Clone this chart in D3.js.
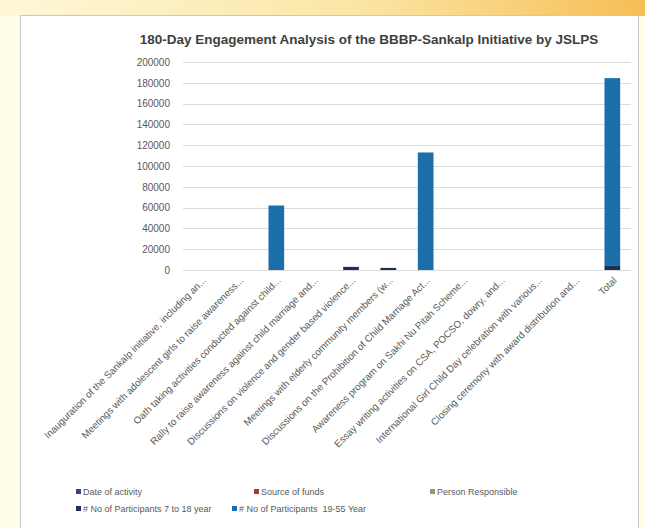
<!DOCTYPE html>
<html>
<head>
<meta charset="utf-8">
<script src="https://cdn.jsdelivr.net/npm/d3@7"></script>
<style>
  body { margin: 0; background: #fffde8; }
  text { font-family: "Liberation Sans", Arial, sans-serif; }
</style>
</head>
<body>
<div id="chart"></div>
<script>
const categories = [
  "Inauguration of the Sankalp initiative, including an...",
  "Meetings with adolescent girls to raise awareness...",
  "Oath taking activities conducted against child...",
  "Rally to raise awareness against child marriage and...",
  "Discussions on violence and gender based violence...",
  "Meetings with elderly community members (w...",
  "Discussions on the Prohibition of Child Marriage Act...",
  "Awareness program on Sakhi Nu Pitah Scheme...",
  "Essay writing activities on CSA, POCSO, dowry, and...",
  "International Girl Child Day celebration with various...",
  "Closing ceremony with award distribution and...",
  "Total",
];

const seriesNames = [
  "Date of activity",
  "Source of funds",
  "Person Responsible",
  "# No of Participants 7 to 18 year",
  "# No of Participants  19-55 Year",
];

const dateOfActivity = [0, 0, 0, 0, 0, 0, 0, 0, 0, 0, 0, 0];
const sourceOfFunds = [0, 0, 0, 0, 0, 0, 0, 0, 0, 0, 0, 0];
const personResponsible = [0, 0, 0, 0, 0, 0, 0, 0, 0, 0, 0, 0];
const participants7to18 = [0, 0, 0, 0, 3000, 2000, 0, 0, 0, 0, 0, 4500];
const participants19to55 = [0, 0, 62000, 0, 0, 0, 113000, 0, 0, 0, 0, 180000];

const yTicks = [0, 20000, 40000, 60000, 80000, 100000, 120000, 140000, 160000, 180000, 200000];

const colors = ["#34428c", "#a83a28", "#8f9c6a", "#1f2d5c", "#1b6ea8"];

const width = 645;
const height = 528;
const margin = { top: 62, right: 14, bottom: 258, left: 183 };

const seriesValues = [
  dateOfActivity,
  sourceOfFunds,
  personResponsible,
  participants7to18,
  participants19to55,
];

const table = categories.map((c, i) => {
  const row = { category: c };
  seriesNames.forEach((s, j) => (row[s] = seriesValues[j][i]));
  return row;
});

const stacked = d3.stack().keys(seriesNames)(table);

const svg = d3
  .select("#chart")
  .append("svg")
  .attr("width", width)
  .attr("height", height);

// frame background
const defs = svg.append("defs");
const grad = defs
  .append("linearGradient")
  .attr("id", "topband")
  .attr("x1", "0%")
  .attr("x2", "100%");
grad.append("stop").attr("offset", "0%").attr("stop-color", "#fef8d8");
grad.append("stop").attr("offset", "55%").attr("stop-color", "#fbe6a6");
grad.append("stop").attr("offset", "100%").attr("stop-color", "#f6be55");

svg
  .append("rect")
  .attr("width", width)
  .attr("height", height)
  .attr("fill", "#fffde8");

svg
  .append("rect")
  .attr("width", width)
  .attr("height", 16)
  .attr("fill", "url(#topband)");

svg
  .append("rect")
  .attr("x", 20.5)
  .attr("y", 15.5)
  .attr("width", 618)
  .attr("height", 520)
  .attr("fill", "#ffffff")
  .attr("stroke", "#c8c8c8");

const xScale = d3
  .scaleBand()
  .domain(categories)
  .range([margin.left, width - margin.right])
  .paddingInner(0.58)
  .paddingOuter(0.29);

const yScale = d3
  .scaleLinear()
  .domain([0, 200000])
  .range([height - margin.bottom, margin.top]);

// gridlines
svg
  .append("g")
  .selectAll("line")
  .data(yTicks)
  .join("line")
  .attr("x1", margin.left)
  .attr("x2", width - margin.right)
  .attr("y1", (d) => Math.round(yScale(d)) + 0.5)
  .attr("y2", (d) => Math.round(yScale(d)) + 0.5)
  .attr("stroke", "#dcdcdc");

// y axis labels
const yAxis = svg
  .append("g")
  .attr("transform", `translate(${margin.left - 10}, 0)`)
  .call(d3.axisLeft(yScale).tickValues(yTicks).tickSize(0).tickFormat(d3.format("d")));
yAxis.select(".domain").remove();
yAxis
  .selectAll("text")
  .attr("fill", "#595959")
  .style("font-size", "10px");

// bars
svg
  .append("g")
  .selectAll("g")
  .data(stacked)
  .join("g")
  .attr("fill", (d, i) => colors[i])
  .selectAll("rect")
  .data((d) => d)
  .join("rect")
  .attr("x", (d) => xScale(d.data.category))
  .attr("width", xScale.bandwidth())
  .attr("y", (d) => yScale(d[1]))
  .attr("height", (d) => yScale(d[0]) - yScale(d[1]));

// category labels
svg
  .append("g")
  .selectAll("text")
  .data(categories)
  .join("text")
  .attr(
    "transform",
    (d) => `translate(${xScale(d) + xScale.bandwidth() / 2 + 5}, ${height - margin.bottom + 11}) rotate(-45)`
  )
  .attr("text-anchor", "end")
  .attr("fill", "#595959")
  .style("font-size", "9.8px")
  .text((d) => d);

// title
svg
  .append("text")
  .attr("x", 369)
  .attr("y", 44)
  .attr("text-anchor", "middle")
  .attr("fill", "#404040")
  .style("font-size", "13.5px")
  .style("font-weight", "bold")
  .text("180-Day Engagement Analysis of the BBBP-Sankalp Initiative by JSLPS");

// legend
const legendPos = [
  [76, 492],
  [254, 492],
  [430, 492],
  [76, 509],
  [232, 509],
];

const legend = svg
  .append("g")
  .selectAll("g")
  .data(seriesNames)
  .join("g")
  .attr("transform", (d, i) => `translate(${legendPos[i][0]}, ${legendPos[i][1]})`);

legend
  .append("rect")
  .attr("x", 0)
  .attr("y", -3)
  .attr("width", 5)
  .attr("height", 5)
  .attr("fill", (d, i) => colors[i]);

legend
  .append("text")
  .attr("x", 7)
  .attr("y", 0)
  .attr("dy", "0.32em")
  .attr("fill", "#595959")
  .style("font-size", "9px")
  .style("white-space", "pre")
  .text((d) => d);
</script>
</body>
</html>
